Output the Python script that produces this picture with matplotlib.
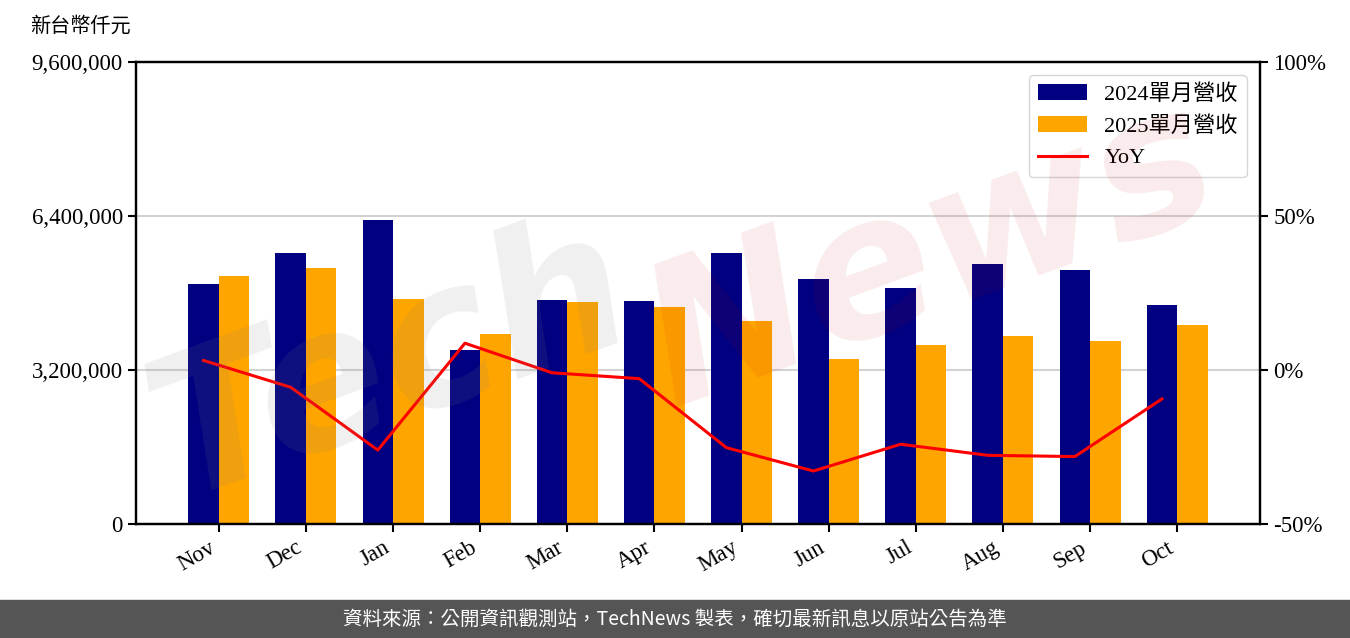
import numpy as np
import matplotlib
matplotlib.use('Agg')
import matplotlib.pyplot as plt
from matplotlib.ticker import FuncFormatter
from matplotlib.patches import Rectangle

plt.rcParams['font.family'] = ['Liberation Serif', 'Noto Sans CJK TC']

# monthly revenue (NT$ thousand)
months = ['Nov', 'Dec', 'Jan', 'Feb', 'Mar', 'Apr', 'May', 'Jun', 'Jul', 'Aug', 'Sep', 'Oct']
rev_2024 = [4987000, 5631000, 6317000, 3616000, 4655000, 4634000,
            5631000, 5091000, 4904000, 5403000, 5278000, 4551000]
rev_2025 = [5153000, 5319000, 4675000, 3948000, 4613000, 4509000,
            4218000, 3429000, 3719000, 3906000, 3803000, 4135000]
yoy = [3.1, -5.6, -26.0, 8.7, -0.9, -2.8, -25.2, -32.8, -24.1, -27.7, -28.1, -9.4]

fig = plt.figure(figsize=(13.5, 6.38), dpi=100)
ax = fig.add_axes([136 / 1350, 1 - 524 / 638, 1124 / 1350, 462 / 638])

x = np.arange(len(months))
w = 0.35
b1 = ax.bar(x - w / 2, rev_2024, w, color='#000080', label='2024單月營收')
b2 = ax.bar(x + w / 2, rev_2025, w, color='#FFA500', label='2025單月營收')

ax.set_ylim(0, 9600000)
ax.set_yticks([0, 3200000, 6400000, 9600000])
ax.yaxis.set_major_formatter(FuncFormatter(lambda v, p: f'{int(v):,}'))
ax.set_xticks(x)
ax.set_xticklabels(months, rotation=30, ha='right')
ax.set_xlim(-0.95, 11.95)
ax.tick_params(labelsize=16.5, width=1.5, length=6)
ax.grid(axis='y', color='#d3d3d3', lw=1.5)
ax.set_axisbelow(True)

ax2 = ax.twinx()
line, = ax2.plot(x - w / 2, yoy, color='red', lw=2.2, label='YoY')
ax2.set_ylim(-50, 100)
ax2.set_yticks([-50, 0, 50, 100])
ax2.yaxis.set_major_formatter(FuncFormatter(lambda v, p: f'{int(v)}%'))
ax2.tick_params(labelsize=16.5, width=1.5, length=6)

for a in (ax, ax2):
    for s in a.spines.values():
        s.set_linewidth(1.6)

ax2.legend(handles=[b1, b2, line], loc='upper right', fontsize=16,
           handlelength=2.2, borderaxespad=0.6)

# unit label
fig.text(30 / 1350, 1 - 27 / 638, '新台幣仟元', fontsize=14.5, va='center', ha='left')

# watermark
fig.text(0.29, 0.43, 'Tech', fontsize=140, rotation=20, color='gray', alpha=0.12,
         style='italic', weight='bold', family='DejaVu Sans', ha='center', va='center')
fig.text(0.69, 0.60, 'News', fontsize=140, rotation=20, color='#c00000', alpha=0.08,
         style='italic', weight='bold', family='DejaVu Sans', ha='center', va='center')

# footer
fig.patches.append(Rectangle((0, 0), 1, 38 / 638, transform=fig.transFigure,
                             color='#555555', zorder=0))
fig.text(0.5, 19 / 638, '資料來源：公開資訊觀測站，TechNews 製表，確切最新訊息以原站公告為準',
         color='white', fontsize=14, family=['Noto Sans CJK TC'], ha='center', va='center')

fig.savefig('out.png', dpi=100)
